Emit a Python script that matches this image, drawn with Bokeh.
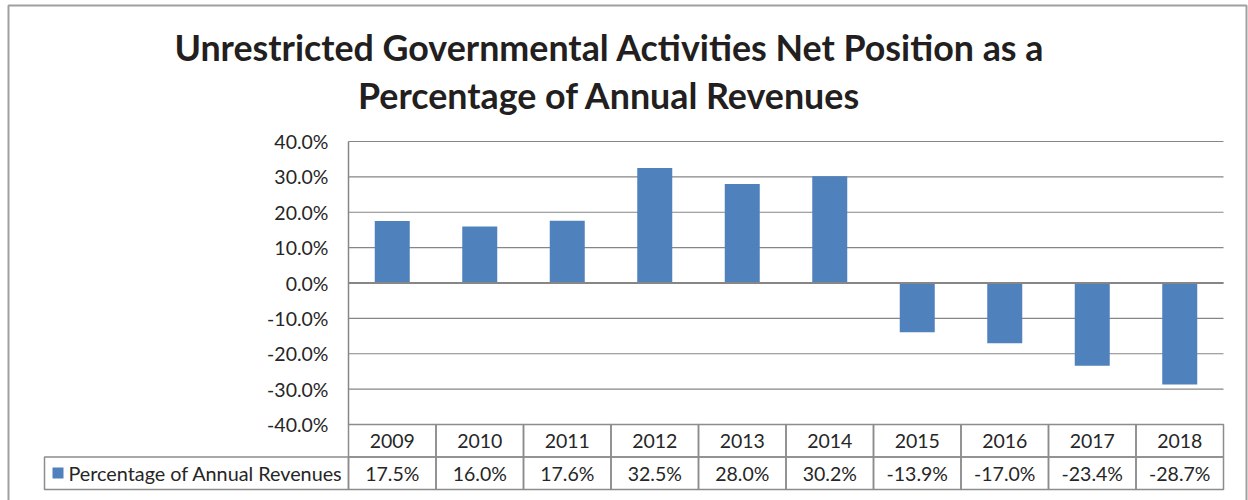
from bokeh.plotting import figure
from bokeh.models import Range1d, FixedTicker, NumeralTickFormatter
from bokeh.core.properties import value
from bokeh.embed import file_html
from bokeh.resources import INLINE

# ---------------- data ----------------
title_lines = ["Unrestricted Governmental Activities Net Position as a",
               "Percentage of Annual Revenues"]
years = ["2009", "2010", "2011", "2012", "2013", "2014", "2015", "2016", "2017", "2018"]
values = [0.175, 0.160, 0.176, 0.325, 0.280, 0.302, -0.139, -0.170, -0.234, -0.287]
series_name = "Percentage of Annual Revenues"
y_ticks = [-0.4, -0.3, -0.2, -0.1, 0.0, 0.1, 0.2, 0.3, 0.4]

# ---------------- style / layout ----------------
BAR = "#4F81BD"
GRID = "#868686"
TABLE_LINE = "#8C8C8C"
TEXT = "#262626"
FONT = "Lato"
TXT_SIZE = "19.5px"
W, H = 1248, 500
FL, FR, FT, FB = 348, 1223, 141, 424   # plot area in pixels

n = len(years)
x_per_px = n / (FR - FL)
y_per_px = (y_ticks[-1] - y_ticks[0]) / (FB - FT)


def dx(px):
    return (px - FL) * x_per_px


def dy(py):
    return y_ticks[-1] - (py - FT) * y_per_px


p = figure(width=W, height=H, output_backend="svg", toolbar_location=None,
           x_range=Range1d(dx(0), dx(W)), y_range=Range1d(dy(H), dy(0)),
           min_border=0)
p.outline_line_color = None
p.background_fill_color = "white"
p.border_fill_color = "white"
p.xaxis.visible = False
p.grid.visible = False

# y axis, placed at the left edge of the plot area
ax = p.yaxis[0]
ax.fixed_location = 0
ax.bounds = (y_ticks[0], y_ticks[-1])
ax.ticker = FixedTicker(ticks=y_ticks)
ax.formatter = NumeralTickFormatter(format="0.0%")
ax.major_tick_out = 0
ax.major_tick_in = 0
ax.minor_tick_out = 0
ax.minor_tick_in = 0
ax.axis_line_color = GRID
ax.axis_line_width = 1.5
ax.major_label_standoff = 20
ax.major_label_text_font = FONT
ax.major_label_text_font_size = TXT_SIZE
ax.major_label_text_color = TEXT

# horizontal gridlines across the plot area
p.segment(x0=0, x1=n, y0=y_ticks, y1=y_ticks, line_color=GRID, line_width=1.2)

# bars
xc = [i + 0.5 for i in range(n)]
p.vbar(x=xc, top=values, bottom=0, width=0.4, fill_color=BAR, line_color=None)
# category axis line at zero
p.segment(x0=[0], x1=[n], y0=[0], y1=[0], line_color=GRID, line_width=2)

# data table below the chart
row_top, row_mid, row_bot = dy(424), dy(456.5), dy(489)
cell_l = list(range(n)) * 2 + [dx(44)]
cell_r = [i + 1 for i in range(n)] * 2 + [0]
cell_t = [row_top] * n + [row_mid] * n + [row_mid]
cell_b = [row_mid] * n + [row_bot] * n + [row_bot]
p.quad(left=cell_l, right=cell_r, top=cell_t, bottom=cell_b,
       fill_color=None, line_color=TABLE_LINE, line_width=1.5)
# legend key
p.quad(left=[dx(52)], right=[dx(63)], top=[dy(467)], bottom=[dy(478)],
       fill_color=BAR, line_color=None)

p.text(x=xc, y=(row_top + row_mid) / 2, text=years, text_align="center",
       text_baseline="middle", text_font=value(FONT),
       text_font_size=value(TXT_SIZE), text_color=TEXT)
p.text(x=xc, y=(row_mid + row_bot) / 2, text=[f"{v:.1%}" for v in values],
       text_align="center", text_baseline="middle", text_font=value(FONT),
       text_font_size=value(TXT_SIZE), text_color=TEXT)
p.text(x=[dx(68)], y=[(row_mid + row_bot) / 2], text=[series_name],
       text_align="left", text_baseline="middle", text_font=value(FONT),
       text_font_size=value("19.8px"), text_color=TEXT)

# title
p.text(x=[dx(609)] * 2, y=[dy(47), dy(95)], text=title_lines,
       text_align="center", text_baseline="middle", text_font=value(FONT),
       text_font_style="bold", text_font_size=value("35.8px"), text_color="#231F20")

# outer chart border
p.quad(left=[dx(8)], right=[dx(1246)], top=[dy(5)], bottom=[dy(540)],
       fill_color=None, line_color="#A0A0A0", line_width=2)

open("out.html", "w").write(file_html(p, INLINE))
